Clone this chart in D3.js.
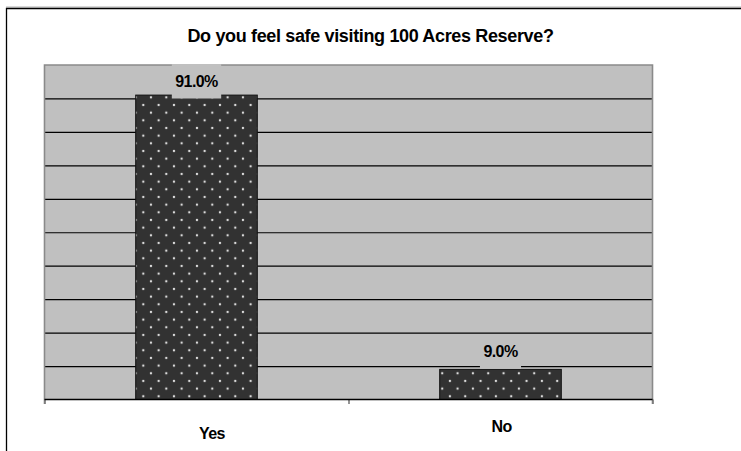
<!DOCTYPE html>
<html>
<head>
<meta charset="utf-8">
<script src="https://cdn.jsdelivr.net/npm/d3@7"></script>
<style>
  html, body { margin: 0; padding: 0; background: #ffffff; }
  svg { display: block; }
  text { font-family: "Liberation Sans", Arial, sans-serif; font-weight: bold; fill: #000; }
</style>
</head>
<body>
<script>
// Survey answers and their shares (percent)
const categories = ["Yes", "No"];
const shares = [91.0, 9.0];
const yTicks = [0, 10, 20, 30, 40, 50, 60, 70, 80, 90, 100];
const title = "Do you feel safe visiting 100 Acres Reserve?";

const W = 741, H = 451;
const plot = { left: 44.5, right: 652.5, top: 65, bottom: 399.5 };

const svg = d3.select("body").append("svg")
  .attr("width", W).attr("height", H);

// dotted fill for the bars
const defs = svg.append("defs");
const tile = 15.33;
const pat = defs.append("pattern")
  .attr("id", "dots")
  .attr("patternUnits", "userSpaceOnUse")
  .attr("width", tile).attr("height", tile)
  .attr("patternTransform", "translate(5.33,13)");
pat.append("rect").attr("width", tile).attr("height", tile).attr("fill", "#323232");
[[0, 0], [tile, 0], [0, tile], [tile, tile], [tile / 2, tile / 2]].forEach(([cx, cy]) => {
  pat.append("circle").attr("cx", cx).attr("cy", cy).attr("r", 1.2).attr("fill", "#dcdcdc");
});

// outer chart frame
svg.append("line").attr("x1", 6).attr("x2", W).attr("y1", 7).attr("y2", 7)
  .attr("stroke", "#b0b0b0").attr("stroke-width", 1);
svg.append("path")
  .attr("d", `M6.5,${H} V8.5 H${W}`)
  .attr("fill", "none").attr("stroke", "#000").attr("stroke-width", 1.3);

// title
svg.append("text")
  .attr("x", 370.5).attr("y", 41.5)
  .attr("text-anchor", "middle")
  .style("font-size", "18px")
  .style("letter-spacing", "-0.35px")
  .text(title);

// scales
const x = d3.scaleBand().domain(categories).range([plot.left, plot.right]).padding(0);
const y = d3.scaleLinear().domain([0, 100]).range([plot.bottom, plot.top]);
const barW = x.bandwidth() * 0.4;

// plot background
svg.append("rect")
  .attr("x", plot.left).attr("y", plot.top)
  .attr("width", plot.right - plot.left).attr("height", plot.bottom - plot.top)
  .attr("fill", "#c0c0c0");

// horizontal gridlines
const grid = d3.axisLeft(y).tickValues(yTicks.slice(1, -1))
  .tickSize(-(plot.right - plot.left)).tickFormat("");
svg.append("g")
  .attr("transform", `translate(${plot.left},0)`)
  .call(grid)
  .call(g => g.select(".domain").remove())
  .call(g => g.selectAll(".tick line").attr("stroke", "#000").attr("stroke-width", 1.2));

// plot border (top, left, right)
svg.append("path")
  .attr("d", `M${plot.left},${plot.bottom + 4.5} V${plot.top} H${plot.right} V${plot.bottom + 4.5}`)
  .attr("fill", "none").attr("stroke", "#8a8a8a").attr("stroke-width", 1.6);

// bars
svg.append("g").selectAll("rect")
  .data(categories)
  .join("rect")
  .attr("x", (d) => x(d) + (x.bandwidth() - barW) / 2)
  .attr("y", (d, i) => y(shares[i]))
  .attr("width", barW)
  .attr("height", (d, i) => y(0) - y(shares[i]))
  .attr("fill", "url(#dots)")
  .attr("stroke", "#111").attr("stroke-width", 1);

// category axis: boundary ticks
const xEdge = d3.scaleLinear().domain([0, categories.length]).range([plot.left, plot.right]);
svg.append("g")
  .attr("transform", `translate(0,${plot.bottom})`)
  .call(d3.axisBottom(xEdge).tickValues(d3.range(categories.length + 1)).tickSize(4.5).tickFormat(""))
  .call(g => g.select(".domain").remove())
  .call(g => g.selectAll(".tick line").attr("stroke", "#7a7a7a").attr("stroke-width", 1.6));
svg.append("line")
  .attr("x1", plot.left).attr("x2", plot.right)
  .attr("y1", plot.bottom).attr("y2", plot.bottom)
  .attr("stroke", "#000").attr("stroke-width", 1.3);

// category labels
const labelShift = [{ dx: 15.5, dy: 39 }, { dx: 1, dy: 32 }];
svg.append("g").selectAll("text")
  .data(categories)
  .join("text")
  .attr("x", (d, i) => x(d) + x.bandwidth() / 2 + labelShift[i].dx)
  .attr("y", (d, i) => plot.bottom + labelShift[i].dy)
  .attr("text-anchor", "middle")
  .style("font-size", "16px")
  .style("letter-spacing", "-0.6px")
  .text(d => d);

// value labels: backing box sits on the bar top, kept inside the plot
const fmt = d3.format(".1f");
const boxH = 34.5;
const boxTop = v => Math.max(y(v) - 0.5 - boxH, plot.top - 1);
const vl = svg.append("g").selectAll("g")
  .data(categories)
  .join("g")
  .attr("transform", (d, i) => `translate(${x(d) + x.bandwidth() / 2},${boxTop(shares[i]) + boxH / 2})`);
vl.append("text")
  .attr("text-anchor", "middle")
  .attr("dy", "0.36em")
  .style("font-size", "16px")
  .style("letter-spacing", "-0.6px")
  .text((d, i) => fmt(shares[i]) + "%")
  .each(function () {
    const w = this.getComputedTextLength();
    d3.select(this.parentNode).insert("rect", "text")
      .attr("x", -w / 2 - 3.5).attr("width", w + 7)
      .attr("y", -boxH / 2).attr("height", boxH)
      .attr("fill", "#c0c0c0");
  });
</script>
</body>
</html>
